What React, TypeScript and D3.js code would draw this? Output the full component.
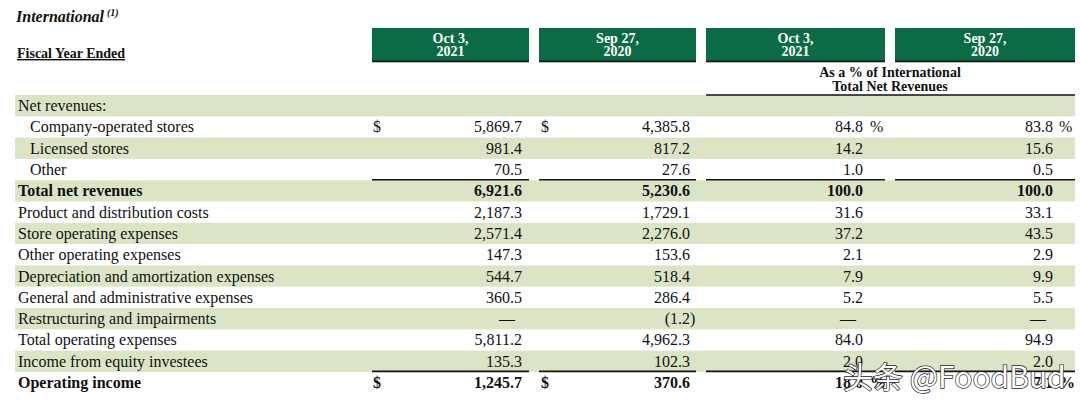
import React from "react";
import * as d3 from "d3";

const labels = [
  "Net revenues:",
  "Company-operated stores",
  "Licensed stores",
  "Other",
  "Total net revenues",
  "Product and distribution costs",
  "Store operating expenses",
  "Other operating expenses",
  "Depreciation and amortization expenses",
  "General and administrative expenses",
  "Restructuring and impairments",
  "Total operating expenses",
  "Income from equity investees",
  "Operating income",
];
const fy2021: (number | null)[] = [null, 5869.7, 981.4, 70.5, 6921.6, 2187.3, 2571.4, 147.3, 544.7, 360.5, null, 5811.2, 135.3, 1245.7];
const fy2020: (number | null)[] = [null, 4385.8, 817.2, 27.6, 5230.6, 1729.1, 2276.0, 153.6, 518.4, 286.4, -1.2, 4962.3, 102.3, 370.6];
const pct2021: (number | null)[] = [null, 84.8, 14.2, 1.0, 100.0, 31.6, 37.2, 2.1, 7.9, 5.2, null, 84.0, 2.0, 18.0];
const pct2020: (number | null)[] = [null, 83.8, 15.6, 0.5, 100.0, 33.1, 43.5, 2.9, 9.9, 5.5, null, 94.9, 2.0, 7.1];
const indented = [false, true, true, true, false, false, false, false, false, false, false, false, false, false];
const boldRows = [false, false, false, false, true, false, false, false, false, false, false, false, false, true];
const dollarRows = [1, 13];
const dashRows = [10];
const underlineAfter = [3, 12];
const headerTop = ["Oct 3,", "Sep 27,", "Oct 3,", "Sep 27,"];
const headerBottom = ["2021", "2020", "2021", "2020"];

const GREEN = "#0b6b45";
const BAND = "#dbe5c6";
const FONT = "'Liberation Serif', 'Times New Roman', serif";
const FS = 16;

const cols = [
  { x0: 372, x1: 529, right: 522, sym: "$", symX: 373, pct: false },
  { x0: 539, x1: 696, right: 690, sym: "$", symX: 541, pct: false },
  { x0: 706, x1: 885, right: 863, sym: "%", symX: 870, pct: true },
  { x0: 895, x1: 1075, right: 1053, sym: "%", symX: 1059, pct: true },
];

export default function App() {
  const W = 1080;
  const H = 402;
  const y = d3.scaleBand<number>().domain(d3.range(labels.length)).range([95, 95 + 21.3 * labels.length]).padding(0);
  const fmt = d3.format(",.1f");
  const series = [fy2021, fy2020, pct2021, pct2020];

  return (
    <svg width={W} height={H} style={{ position: "absolute", left: 0, top: 0, background: "#fff" }} fontFamily={FONT}>
      <rect x={0} y={0} width={W} height={H} fill="#fff" />
      {/* Title */}
      <text x={16} y={22} fontSize={16} fontWeight="bold" fontStyle="italic" fill="#111">
        International
        <tspan fontSize={10} dy={-6} dx={3}>(1)</tspan>
      </text>
      <text x={17} y={58} fontSize={14} fontWeight="bold" fill="#111" textDecoration="underline">
        Fiscal Year Ended
      </text>

      {/* Header boxes */}
      {cols.map((c, i) => (
        <g key={"h" + i}>
          <rect x={c.x0} y={28} width={c.x1 - c.x0} height={34} fill={GREEN} />
          <rect x={c.x0} y={60.5} width={c.x1 - c.x0} height={1.8} fill="#1a1a1a" />
          <text x={(c.x0 + c.x1) / 2} y={43} textAnchor="middle" fontSize={14} fontWeight="bold" fill="#fff">
            {headerTop[i]}
          </text>
          <text x={(c.x0 + c.x1) / 2} y={56} textAnchor="middle" fontSize={14} fontWeight="bold" fill="#fff">
            {headerBottom[i]}
          </text>
        </g>
      ))}
      <text x={890} y={77} textAnchor="middle" fontSize={14} fontWeight="bold" fill="#111">
        As a % of International
      </text>
      <text x={890} y={91} textAnchor="middle" fontSize={14} fontWeight="bold" fill="#111">
        Total Net Revenues
      </text>

      {/* Bands */}
      {labels.map((_, i) =>
        i % 2 === 0 ? (
          <rect key={"b" + i} x={15} y={y(i)!} width={1060} height={y.bandwidth()} fill={BAND} />
        ) : null
      )}
      <line x1={706} x2={1075} y1={95} y2={95} stroke="#111" strokeWidth={1.5} />

      {/* Rows */}
      {labels.map((lab, i) => {
        const cy = y(i)! + y.bandwidth() / 2 + 5.5;
        const fw = boldRows[i] ? "bold" : "normal";
        return (
          <g key={"r" + i}>
            <text x={indented[i] ? 30 : 18} y={cy} fontSize={FS} fontWeight={fw} fill="#111">
              {lab}
            </text>
            {cols.map((c, j) => {
              const v = series[j][i];
              const out: React.ReactNode[] = [];
              if (dollarRows.includes(i)) {
                out.push(
                  <text key="s" x={c.symX} y={cy} fontSize={FS} fontWeight={fw} fill="#111">
                    {c.sym}
                  </text>
                );
              }
              if (v === null && dashRows.includes(i)) {
                out.push(
                  <text key="d" x={c.right - 15} y={cy} textAnchor="middle" fontSize={FS} fill="#111">
                    —
                  </text>
                );
              } else if (v !== null) {
                if (v < 0) {
                  out.push(
                    <text key="v" x={c.right} y={cy} textAnchor="end" fontSize={FS} fontWeight={fw} fill="#111">
                      {"(" + fmt(-v)}
                    </text>
                  );
                  out.push(
                    <text key="p" x={c.right} y={cy} fontSize={FS} fontWeight={fw} fill="#111">
                      )
                    </text>
                  );
                } else {
                  out.push(
                    <text key="v" x={c.right} y={cy} textAnchor="end" fontSize={FS} fontWeight={fw} fill="#111">
                      {fmt(v)}
                    </text>
                  );
                }
              }
              return <g key={"c" + j}>{out}</g>;
            })}
          </g>
        );
      })}

      {/* Underlines */}
      {underlineAfter.map((r) =>
        cols.map((c, j) => (
          <line
            key={"u" + r + "-" + j}
            x1={c.x0}
            x2={c.x1}
            y1={y(r)! + y.bandwidth() - 0.5}
            y2={y(r)! + y.bandwidth() - 0.5}
            stroke="#111"
            strokeWidth={1.6}
          />
        ))
      )}

      {/* Watermark */}
      <text
        x={843}
        y={388}
        fontSize={30}
        fontFamily="'Noto Sans CJK SC', 'Noto Sans', sans-serif"
        fill="#fff"
        stroke="#222"
        strokeWidth={1.4}
        paintOrder="stroke"
      >
        头条 @FoodBud
      </text>
    </svg>
  );
}
